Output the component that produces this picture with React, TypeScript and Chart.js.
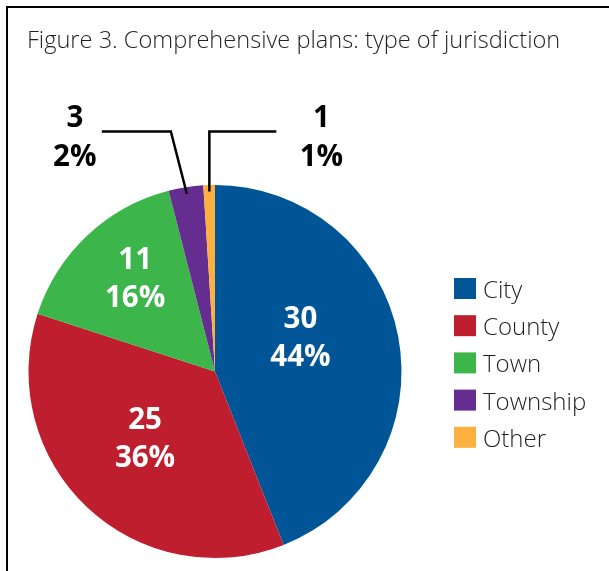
import React, { useEffect, useRef } from "react";
import { Chart, registerables } from "chart.js";

Chart.register(...registerables);

const titleText = "Figure 3. Comprehensive plans: type of jurisdiction";
const categories = ["City", "County", "Town", "Township", "Other"];
const counts = [30, 25, 11, 3, 1];
const percentLabels = ["44%", "36%", "16%", "2%", "1%"];
const shares = [44, 36, 16, 3, 1];
const colors = ["#005596", "#be1e2d", "#3cb54a", "#662d91", "#fbb040"];

// label placement styles (inside: radius fraction + angle tweak; outside: leader)
const insidePlacement: Record<number, { fr: number; da: number }> = {
  0: { fr: 0.49, da: -10 },
  1: { fr: 0.525, da: 2.4 },
  2: { fr: 0.654, da: 2.3 },
};
const outsidePlacement: Record<number, { elbowDx: number; hLen: number; textDx: number }> = {
  3: { elbowDx: -16, hLen: -69, textDx: -27 },
  4: { elbowDx: 0, hLen: 67, textDx: 45 },
};

const TITLE_FONT = "300 23.6px 'Open Sans', 'Noto Sans', sans-serif";
const LIGHT = "300 24px 'Open Sans', 'Noto Sans', sans-serif";
const BOLD = "700 29.5px 'Open Sans', 'Noto Sans', sans-serif";

const overlayPlugin = {
  id: "overlay",
  afterDraw(chart: any) {
    const ctx = chart.ctx as CanvasRenderingContext2D;
    const meta = chart.getDatasetMeta(0);
    ctx.save();
    // frame
    ctx.fillStyle = "#000";
    ctx.fillRect(6, 6, 603, 2);
    ctx.fillRect(6, 6, 2, 565);
    // title
    ctx.font = TITLE_FONT;
    ctx.fillStyle = "#231f20";
    ctx.textAlign = "left";
    ctx.textBaseline = "alphabetic";
    ctx.fillText(titleText, 27, 48);

    // slice labels
    ctx.font = BOLD;
    ctx.textAlign = "center";
    ctx.textBaseline = "middle";
    meta.data.forEach((arc: any, i: number) => {
      const { x, y, startAngle, endAngle, outerRadius } = arc.getProps(
        ["x", "y", "startAngle", "endAngle", "outerRadius"],
        true
      );
      const mid = (startAngle + endAngle) / 2;
      if (insidePlacement[i]) {
        const p = insidePlacement[i];
        const a = mid + (p.da * Math.PI) / 180;
        const cx = x + outerRadius * p.fr * Math.cos(a);
        const cy = y + outerRadius * p.fr * Math.sin(a);
        ctx.fillStyle = "#ffffff";
        ctx.fillText(String(counts[i]), cx, cy - 19);
        ctx.fillText(percentLabels[i], cx, cy + 19);
      } else if (outsidePlacement[i]) {
        const p = outsidePlacement[i];
        const sx = x + outerRadius * 0.965 * Math.cos(mid);
        const sy = y + outerRadius * 0.965 * Math.sin(mid);
        const ey = y - outerRadius * 1.287;
        const ex = sx + p.elbowDx;
        const hx = ex + p.hLen;
        ctx.strokeStyle = "#000";
        ctx.lineWidth = 2.5;
        ctx.lineJoin = "miter";
        ctx.beginPath();
        ctx.moveTo(sx, sy);
        ctx.lineTo(ex, ey);
        ctx.lineTo(hx, ey);
        ctx.stroke();
        ctx.fillStyle = "#000";
        ctx.fillText(String(counts[i]), hx + p.textDx, ey - 13);
        ctx.fillText(percentLabels[i], hx + p.textDx, ey + 26);
      }
    });

    // legend
    const lx = 454;
    const ly = 278;
    const step = 37.2;
    ctx.font = LIGHT;
    ctx.textAlign = "left";
    ctx.textBaseline = "alphabetic";
    categories.forEach((c, i) => {
      const top = ly + i * step;
      ctx.fillStyle = colors[i];
      ctx.fillRect(lx, top, 22, 21);
      ctx.fillStyle = "#231f20";
      ctx.fillText(c, 483, top + 20);
    });
    ctx.restore();
  },
};

export default function App() {
  const ref = useRef<HTMLCanvasElement | null>(null);
  useEffect(() => {
    if (!ref.current) return;
    const chart = new Chart(ref.current, {
      type: "pie",
      data: {
        labels: categories,
        datasets: [
          {
            data: shares,
            backgroundColor: colors,
            borderWidth: 0,
          },
        ],
      },
      options: {
        responsive: false,
        animation: false,
        devicePixelRatio: 1,
        layout: { padding: { left: 28, right: 207, top: 185, bottom: 13 } },
        plugins: {
          legend: { display: false },
          tooltip: { enabled: false },
          title: { display: false },
        },
      },
      plugins: [overlayPlugin],
    });
    return () => chart.destroy();
  }, []);
  return (
    <div style={{ position: "fixed", left: 0, top: 0, width: 609, height: 571, background: "#fff" }}>
      <canvas ref={ref} width={609} height={571} style={{ display: "block" }} />
    </div>
  );
}
